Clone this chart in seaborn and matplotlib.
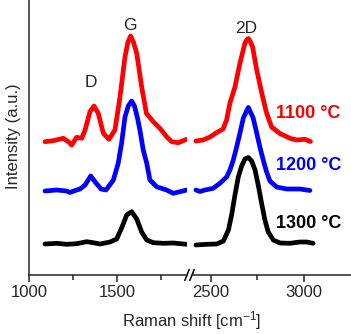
"""Raman spectra of graphene grown at 1100/1200/1300 C, broken x axis."""

import matplotlib
matplotlib.use("Agg")
import matplotlib.pyplot as plt
import numpy as np
import seaborn as sns

# --- data (Raman shift in cm-1, intensity in a.u.) ---
TEMPS = ["1100 °C", "1200 °C", "1300 °C"]
OFFSETS = [133, 84, 31]

RED_LEFT_X = [1091, 1138, 1195, 1224, 1243, 1271, 1300, 1319, 1347, 1370, 1394, 1423,
              1455, 1489, 1518, 1546, 1563, 1578, 1594, 1613, 1641, 1668, 1707, 1745,
              1783, 1812, 1849, 1897]
RED_LEFT_I = [0.3, 1.3, 3.7, 0.3, -3, 4.7, 3.7, 12, 30.3, 36, 28.7, 8.7,
              2.7, 12, 45.3, 85, 100, 106, 100, 88.7, 55.3, 28.7, 20.3, 13.7,
              5.3, 0.3, -0.7, 2.7]
RED_RIGHT_X = [2419, 2457, 2495, 2527, 2565, 2584, 2602, 2629, 2656, 2683, 2692, 2701,
               2710, 2724, 2746, 2773, 2799, 2826, 2871, 2925, 2961, 3005, 3035]
RED_RIGHT_I = [1, 2, 5, 9, 13, 22, 39, 55, 79, 99, 102, 103.5,
               101, 95, 72, 49, 29, 15, 8.5, 3.7, 2, 2.7, 0.5]

BLUE_LEFT_X = [1091, 1158, 1214, 1233, 1271, 1290, 1319, 1351, 1381, 1410, 1438, 1480,
               1508, 1527, 1546, 1565, 1584, 1600, 1616, 1631, 1650, 1670, 1688, 1726,
               1783, 1821, 1859, 1897]
BLUE_LEFT_I = [0, 1, 0, -1.5, 1, 2, 6, 15, 8, 2, 1, 11,
               28, 48, 74, 85, 90, 85, 74, 61, 41, 27.7, 11, 4.3,
               1, -2.3, -0.7, 1]
BLUE_RIGHT_X = [2419, 2441, 2468, 2512, 2548, 2584, 2602, 2620, 2638, 2656, 2674, 2701,
                2727, 2746, 2763, 2781, 2799, 2817, 2853, 2907, 2978, 3032]
BLUE_RIGHT_I = [1, -0.5, 1, 2.7, 7.7, 14, 21, 31, 44, 58, 73, 83.5,
                73, 58, 44, 31, 19, 10, 4, 2, 2, 0.5]

BLACK_LEFT_X = [1091, 1158, 1214, 1271, 1328, 1366, 1404, 1461, 1499, 1527, 1556, 1584,
                1613, 1641, 1670, 1707, 1764, 1821, 1897]
BLACK_LEFT_I = [0, 0.7, -0.3, 0.3, 2.3, 1.3, 0, 2, 5, 16, 29, 32.3,
                25, 12, 4, 1.3, 0.7, 1, -0.3]
BLACK_RIGHT_X = [2419, 2477, 2531, 2567, 2594, 2611, 2629, 2647, 2665, 2683, 2701, 2719,
                 2737, 2754, 2772, 2790, 2808, 2835, 2871, 2925, 2978, 3015, 3049]
BLACK_RIGHT_I = [-1, -0.3, 0, 3, 14, 29, 49, 67, 78, 85, 86.5, 83,
                 74, 59, 41, 24, 12, 4, 1, 0.7, 2, 2, 0.7]

COLORS = ["#ff0000", "#0000ff", "#000000"]

W, H = 351, 334


def main() -> None:
    sns.set_style("ticks")
    plt.rcParams["font.family"] = ["Liberation Sans", "DejaVu Sans"]
    plt.rcParams["mathtext.fontset"] = "custom"
    plt.rcParams["mathtext.rm"] = "Liberation Sans"
    plt.rcParams["mathtext.it"] = "Liberation Sans:italic"
    plt.rcParams["mathtext.bf"] = "Liberation Sans:bold"

    fig = plt.figure(figsize=(W / 100, H / 100), dpi=100)
    bottom = (H - 275) / H
    ax1 = fig.add_axes([29 / W, bottom, 158 / W, 275 / H])
    ax2 = fig.add_axes([192 / W, bottom, 159 / W, 275 / H])

    left = [(RED_LEFT_X, RED_LEFT_I), (BLUE_LEFT_X, BLUE_LEFT_I), (BLACK_LEFT_X, BLACK_LEFT_I)]
    right = [(RED_RIGHT_X, RED_RIGHT_I), (BLUE_RIGHT_X, BLUE_RIGHT_I),
             (BLACK_RIGHT_X, BLACK_RIGHT_I)]
    line_kw = dict(linewidth=3.4, solid_capstyle="round", solid_joinstyle="round",
                   estimator=None, sort=False, legend=False)
    for (xl, il), (xr, ir), off, c in zip(left, right, OFFSETS, COLORS):
        sns.lineplot(x=xl, y=np.array(il) + off, color=c, ax=ax1, **line_kw)
        sns.lineplot(x=xr, y=np.array(ir) + off, color=c, ax=ax2, **line_kw)

    ax1.set_xlim(1000, 1899)
    ax2.set_xlim(2398, 3253)
    for ax in (ax1, ax2):
        ax.set_ylim(0, 275)
        ax.set_yticks([])
        ax.set_ylabel("")
        ax.spines["top"].set_visible(False)
        ax.spines["right"].set_visible(False)
        ax.spines["bottom"].set_linewidth(1.1)
        ax.spines["left"].set_linewidth(1.1)
        ax.tick_params(axis="x", which="major", direction="out", length=5, width=1.1,
                       pad=2, labelsize=12)
        ax.tick_params(axis="x", which="minor", direction="out", length=3.3, width=1.1)
        ax.patch.set_alpha(0)
    ax2.spines["left"].set_visible(False)

    ax1.set_xticks([1000, 1500])
    ax1.set_xticks([1250, 1750], minor=True)
    ax2.set_xticks([2500, 3000])
    ax2.set_xticks([2750], minor=True)

    # break marks "//"
    dx, dy = 2.2 / 158, 5.5 / 275
    for ax, x0 in ((ax1, 1.0), (ax2, 0.0)):
        ax.plot([x0 - dx, x0 + dx], [-dy, dy], transform=ax.transAxes, color="black",
                lw=1.1, clip_on=False)

    # peak labels
    ax1.text(1351, 188.3, "D", ha="center", va="baseline", fontsize=12.5)
    ax1.text(1575, 245, "G", ha="center", va="baseline", fontsize=12.5)
    ax2.text(2692, 241.7, "2D", ha="center", va="baseline", fontsize=12.5)

    # temperature labels
    for label, y, c in zip(TEMPS, [156.7, 105, 47], COLORS):
        ax2.text(2849, y, label, color=c, ha="left", va="baseline",
                 fontsize=13, fontweight="bold")

    fig.text(192 / W, (H - 326.7) / H, r"Raman shift [cm$^{-1}$]", ha="center",
             va="baseline", fontsize=12)
    fig.text(14 / W, (H - 135.7) / H, "Intensity (a.u.)", rotation=90, ha="center",
             va="center", fontsize=12)

    fig.savefig("out.png", dpi=100)


if __name__ == "__main__":
    main()
